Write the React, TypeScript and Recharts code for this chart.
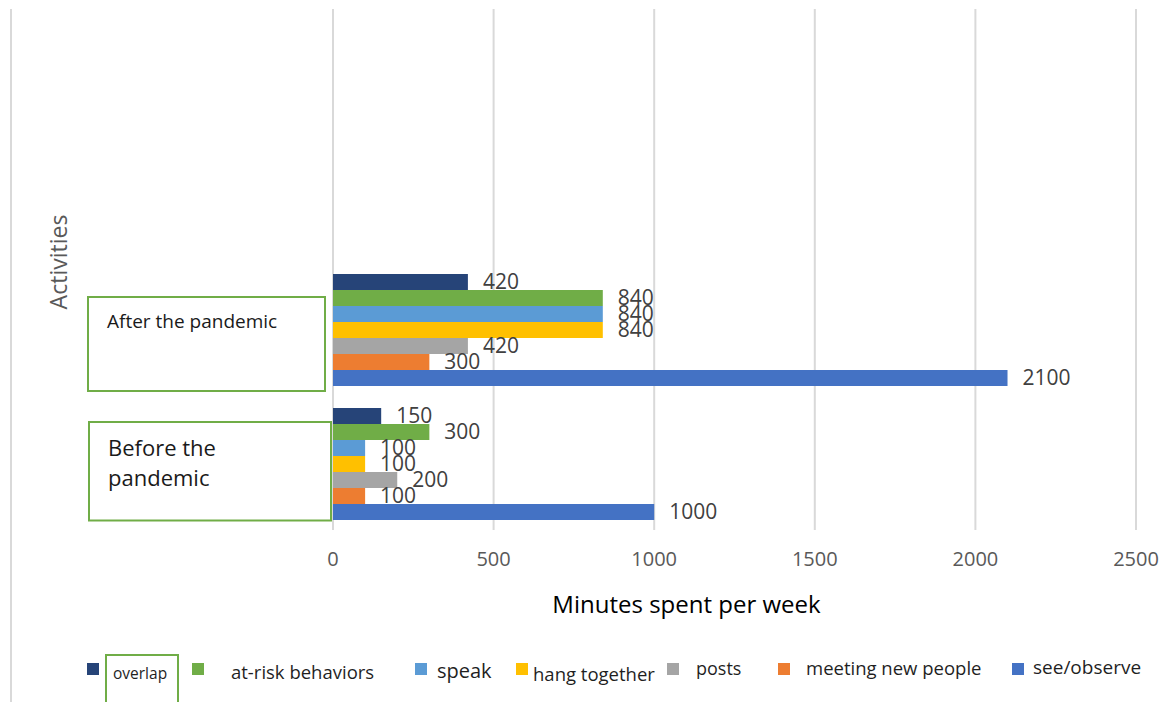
import React from "react"
import { BarChart, Bar, XAxis, YAxis, CartesianGrid, Legend, LabelList, Label } from "recharts"

const categories = ["After the pandemic", "Before the pandemic"]

const seriesNames = ["overlap", "at-risk behaviors", "speak", "hang together", "posts", "meeting new people", "see/observe"]
const seriesKeys = ["overlap", "atRisk", "speak", "hang", "posts", "meeting", "see"]
const seriesColors = ["#264478", "#70AD47", "#5B9BD5", "#FFC000", "#A5A5A5", "#ED7D31", "#4472C4"]

const overlap = [420, 150]
const atRisk = [840, 300]
const speak = [840, 100]
const hang = [840, 100]
const posts = [420, 200]
const meeting = [300, 100]
const see = [2100, 1000]

const xTicks = [0, 500, 1000, 1500, 2000, 2500]

const data = categories.map((name, i) => ({
  name,
  overlap: overlap[i],
  atRisk: atRisk[i],
  speak: speak[i],
  hang: hang[i],
  posts: posts[i],
  meeting: meeting[i],
  see: see[i],
}))

const FONT = "'Open Sans', sans-serif"

// boxes drawn around the category labels, relative to the band centre
const tickBoxes: Record<string, { top: number; bottom: number; left: number; right: number; size: number; lines: { text: string; dy: number }[] }> = {
  "After the pandemic": {
    top: -32, bottom: 62, left: 88, right: 325, size: 19,
    lines: [{ text: "After the pandemic", dy: -1.5 }],
  },
  "Before the pandemic": {
    top: -41, bottom: 57.5, left: 89, right: 331, size: 22,
    lines: [{ text: "Before the", dy: -7 }, { text: "pandemic", dy: 23 }],
  },
}

function CategoryTick(props: any) {
  const { y, payload } = props
  const b = tickBoxes[payload.value]
  if (!b) return null
  return (
    <g>
      <rect x={b.left} y={y + b.top} width={b.right - b.left} height={b.bottom - b.top} fill="#fff" stroke="#70AD47" strokeWidth={2} />
      {b.lines.map((l, i) => (
        <text key={i} x={b.left + 19} y={y + l.dy} fontSize={b.size} fontFamily={FONT} fill="#1a1a1a">
          {l.text}
        </text>
      ))}
    </g>
  )
}

// legend placement
const legendLayout: Record<string, { sq: number; tx: number; size: number; base: number; boxed?: boolean }> = {
  overlap: { sq: 87, tx: 113, size: 15.5, base: 29, boxed: true },
  "at-risk behaviors": { sq: 192, tx: 231, size: 18.5, base: 29 },
  speak: { sq: 415, tx: 437, size: 20, base: 28 },
  "hang together": { sq: 516, tx: 533, size: 18.5, base: 31 },
  posts: { sq: 667, tx: 696, size: 18, base: 25 },
  "meeting new people": { sq: 778, tx: 806, size: 18.5, base: 25 },
  "see/observe": { sq: 1012, tx: 1033, size: 19, base: 24 },
}

function LegendContent() {
  return (
    <svg width={1173} height={52} style={{ display: "block" }}>
      {seriesNames.map((name, i) => {
        const l = legendLayout[name]
        return (
          <g key={name}>
            <rect x={l.sq} y={13} width={12} height={12} fill={seriesColors[i]} />
            {l.boxed && <rect x={106} y={5} width={72} height={52} fill="none" stroke="#70AD47" strokeWidth={2} />}
            <text x={l.tx} y={l.base} fontSize={l.size} fontFamily={FONT} fill="#1f1f1f">
              {name}
            </text>
          </g>
        )
      })}
    </svg>
  )
}

export default function App() {
  return (
    <div style={{ position: "absolute", left: 0, top: 0, width: 1173, height: 702, background: "#fff" }}>
      <div style={{ position: "absolute", left: 10, top: 9, width: 2, height: 693, background: "#d9d9d9" }} />
      <BarChart
        width={1173}
        height={702}
        data={data}
        layout="vertical"
        margin={{ top: 9, right: 37, bottom: 82, left: 0 }}
        barCategoryGap={12}
        barGap={0}
      >
        <CartesianGrid horizontal={false} stroke="#d9d9d9" strokeWidth={2} />
        <XAxis
          type="number"
          domain={[0, 2500]}
          ticks={xTicks}
          axisLine={false}
          tickLine={false}
          tickSize={0}
          tickMargin={22}
          height={90}
          tick={{ fill: "#595959", fontSize: 20, fontFamily: FONT }}
        >
          <Label
            value="Minutes spent per week"
            position="insideBottom"
            offset={7}
            dx={-48}
            style={{ fill: "#000", fontSize: 24, fontFamily: FONT }}
          />
        </XAxis>
        <YAxis
          type="category"
          dataKey="name"
          width={333}
          axisLine={false}
          tickLine={false}
          padding={{ top: 253, bottom: 0 }}
          tick={<CategoryTick />}
        >
          <Label
            content={() => (
              <text
                x={58}
                y={262}
                transform="rotate(-90, 58, 262)"
                textAnchor="middle"
                dominantBaseline="central"
                fontSize={23}
                fontFamily={FONT}
                fill="#595959"
              >
                Activities
              </text>
            )}
          />
        </YAxis>
        <Legend
          verticalAlign="middle"
          align="center"
          content={<LegendContent />}
          wrapperStyle={{ position: "absolute", left: 0, top: 650, width: 1173, height: 52 }}
        />
        {seriesKeys.map((k, i) => (
          <Bar key={k} dataKey={k} name={seriesNames[i]} fill={seriesColors[i]} isAnimationActive={false}>
            <LabelList dataKey={k} position="right" offset={15} fill="#404040" fontSize={21} fontFamily={FONT} />
          </Bar>
        ))}
      </BarChart>
    </div>
  )
}
